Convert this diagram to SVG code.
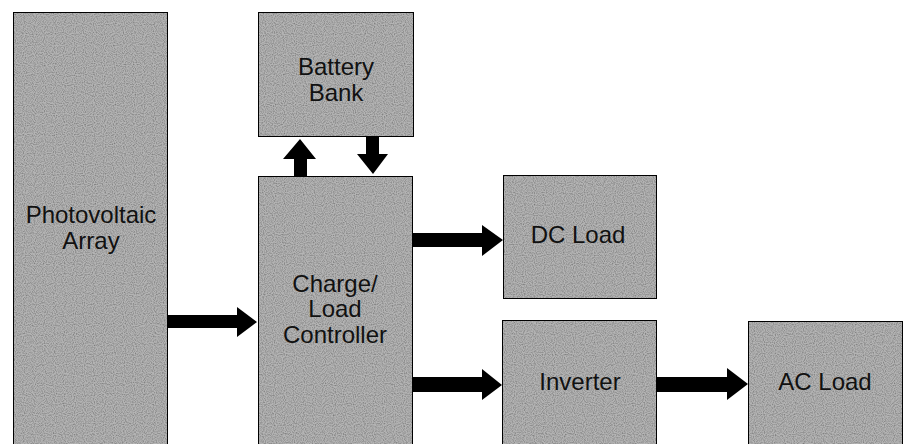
<svg xmlns="http://www.w3.org/2000/svg" width="907" height="444" viewBox="0 0 907 444">
<defs>
<filter id="stipple" x="0" y="0" width="1" height="1">
<feTurbulence type="fractalNoise" baseFrequency="0.9" numOctaves="1" seed="3" result="n"/>
<feColorMatrix in="n" type="matrix" values="0 0 0 0 0  0 0 0 0 0  0 0 0 0 0  0 0 0 -1.2 0.75" result="dots"/>
<feComposite in="dots" in2="SourceGraphic" operator="in" result="d2"/>
<feMerge><feMergeNode in="SourceGraphic"/><feMergeNode in="d2"/></feMerge>
</filter>
</defs>
<style>
.box{fill:#b4b4b4;stroke:#000;stroke-width:2}
.lbl{font-family:"Liberation Sans",Arial,sans-serif;font-size:24px;fill:#111;text-anchor:middle}
.arr{fill:#000}
</style>
<rect width="907" height="444" fill="#fff"/>
<g id="pv">
<rect class="box" x="13" y="12" width="155" height="445" filter="url(#stipple)"/>
<text class="lbl" x="91" y="223">Photovoltaic</text>
<text class="lbl" x="91" y="249">Array</text>
</g>
<g id="battery">
<rect class="box" x="258" y="12" width="156" height="125" filter="url(#stipple)"/>
<text class="lbl" x="336" y="75">Battery</text>
<text class="lbl" x="336" y="101">Bank</text>
</g>
<g id="controller">
<rect class="box" x="258" y="176" width="155" height="280" filter="url(#stipple)"/>
<text class="lbl" x="335" y="292">Charge/</text>
<text class="lbl" x="335" y="317">Load</text>
<text class="lbl" x="335" y="343">Controller</text>
</g>
<g id="dcload">
<rect class="box" x="503" y="175" width="154" height="124" filter="url(#stipple)"/>
<text class="lbl" x="578" y="243">DC Load</text>
</g>
<g id="inverter">
<rect class="box" x="502" y="320" width="155" height="140" filter="url(#stipple)"/>
<text class="lbl" x="580" y="390">Inverter</text>
</g>
<g id="acload">
<rect class="box" x="748" y="321" width="155" height="140" filter="url(#stipple)"/>
<text class="lbl" x="825" y="390">AC Load</text>
</g>
<g id="connectors">
<polygon class="arr" points="168,315 237,315 237,307 257,322 237,337 237,328 168,328"/>
<polygon class="arr" points="413,233 482,233 482,225 503,240 482,256 482,247 413,247"/>
<polygon class="arr" points="413,377 482,377 482,369 502,385 482,400 482,392 413,392"/>
<polygon class="arr" points="657,377 727,377 727,368 748,384 727,400 727,392 657,392"/>
<polygon class="arr" points="294,176 294,159 283,159 300,139 316,159 307,159 307,176"/>
<polygon class="arr" points="366,137 379,137 379,154 388,154 373,174 357,154 366,154"/>
</g>
</svg>
